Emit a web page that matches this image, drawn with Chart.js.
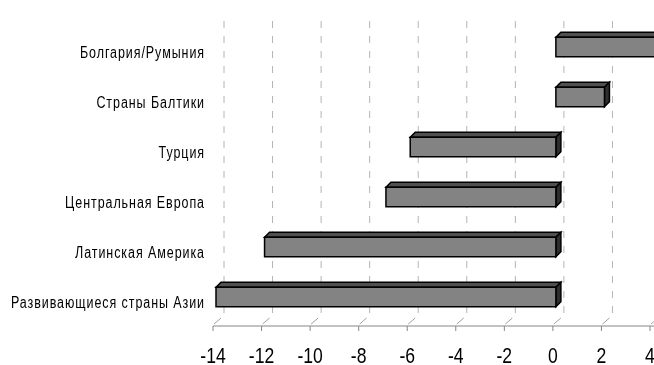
<!DOCTYPE html>
<html>
<head>
<meta charset="UTF-8">
<title>Регионы</title>
<script src="https://cdn.jsdelivr.net/npm/chart.js@4.4.1/dist/chart.umd.min.js"></script>
<style>
  html, body { margin: 0; padding: 0; background: #fff; overflow: hidden; }
  #wrap { width: 700px; height: 365px; }
</style>
</head>
<body>
<div id="wrap"><canvas id="grafico" width="700" height="365"></canvas></div>
<script>
// categorias de cima para baixo
var regioes = [
    "Болгария/Румыния",
    "Страны Балтики",
    "Турция",
    "Центральная Европа",
    "Латинская Америка",
    "Развивающиеся страны Азии"
];
var valores = [4.2, 2, -6, -7, -12, -14];
var eixoMin = -14;
var eixoMax = 4;
var passo = 2;

var fonte = "'Liberation Sans', Arial, sans-serif";

// profundidade do "piso" e das barras (efeito 3D)
var fundo = { dx: 11, dy: -11 };
var barra = { ox: 3, oy: -4, dx: 5, dy: -5 };

// escreve texto comprimido na horizontal
function textoEstreito(ctx, txt, x, y, align, aperto, espaco) {
    ctx.save();
    ctx.translate(x, y);
    ctx.scale(aperto, 1);
    ctx.letterSpacing = espaco + "px";
    ctx.textAlign = align;
    ctx.textBaseline = "alphabetic";
    ctx.fillText(txt, 0, 0);
    ctx.restore();
}

var rotulosPlugin = {
    id: "rotulos",
    afterDraw: function(chart) {
        var ctx = chart.ctx;
        var x = chart.scales.x;
        var y = chart.scales.y;
        ctx.save();
        ctx.fillStyle = "#000";
        ctx.font = "22px " + fonte;
        x.ticks.forEach(function(t, i) {
            textoEstreito(ctx, String(t.value), x.getPixelForTick(i), 363, "center", 0.8, 0);
        });
        ctx.font = "16px " + fonte;
        y.ticks.forEach(function(t, i) {
            textoEstreito(ctx, regioes[t.value], y.right - 8, y.getPixelForTick(i) + 7, "right", 0.78, 1.2);
        });
        ctx.restore();
    }
};

// grade tracejada na parede do fundo + eixo do piso + barras 3D
var gradePlugin = {
    id: "grade3d",
    beforeDatasetsDraw: function(chart) {
        var ctx = chart.ctx;
        var area = chart.chartArea;
        var x = chart.scales.x;
        ctx.save();
        x.ticks.forEach(function(t) {
            var px = x.getPixelForValue(t.value);
            ctx.strokeStyle = "#b4b4b4";
            ctx.lineWidth = 1;
            ctx.setLineDash([7, 8]);
            ctx.beginPath();
            ctx.moveTo(px + fundo.dx, area.bottom + fundo.dy - 2);
            ctx.lineTo(px + fundo.dx, area.top + fundo.dy);
            ctx.stroke();
            ctx.setLineDash([]);
            ctx.strokeStyle = "#a0a0a0";
            ctx.beginPath();
            ctx.moveTo(px + 1, area.bottom - 2);
            ctx.lineTo(px + 8, area.bottom - 8);
            ctx.stroke();
            ctx.strokeStyle = "#868686";
            ctx.beginPath();
            ctx.moveTo(px, area.bottom);
            ctx.lineTo(px, area.bottom + 5);
            ctx.stroke();
        });
        ctx.strokeStyle = "#868686";
        ctx.beginPath();
        ctx.moveTo(x.getPixelForValue(eixoMin), area.bottom);
        ctx.lineTo(chart.width, area.bottom);
        ctx.stroke();
        ctx.restore();
    },
    afterDatasetsDraw: function(chart) {
        var ctx = chart.ctx;
        var meta = chart.getDatasetMeta(0);
        ctx.save();
        ctx.lineWidth = 1.5;
        ctx.strokeStyle = "#000";
        meta.data.forEach(function(el) {
            var p = el.getProps(["x", "y", "base", "height"], true);
            var l = Math.min(p.x, p.base) + barra.ox;
            var r = Math.max(p.x, p.base) + barra.ox;
            var t = p.y - p.height / 2 + barra.oy;
            var b = p.y + p.height / 2 + barra.oy;
            // face de cima
            ctx.fillStyle = "#505050";
            ctx.beginPath();
            ctx.moveTo(l, t);
            ctx.lineTo(l + barra.dx, t + barra.dy);
            ctx.lineTo(r + barra.dx, t + barra.dy);
            ctx.lineTo(r, t);
            ctx.closePath();
            ctx.fill();
            ctx.stroke();
            // face lateral
            ctx.fillStyle = "#2e2e2e";
            ctx.beginPath();
            ctx.moveTo(r, t);
            ctx.lineTo(r + barra.dx, t + barra.dy);
            ctx.lineTo(r + barra.dx, b + barra.dy);
            ctx.lineTo(r, b);
            ctx.closePath();
            ctx.fill();
            ctx.stroke();
            // frente
            ctx.fillStyle = "#838383";
            ctx.fillRect(l, t, r - l, b - t);
            ctx.strokeRect(l, t, r - l, b - t);
        });
        ctx.restore();
    }
};

var ctx = document.getElementById("grafico").getContext("2d");
var grafico = new Chart(ctx, {
    type: "bar",
    data: {
        labels: regioes,
        datasets: [{
            data: valores,
            backgroundColor: "rgba(0,0,0,0)",
            borderWidth: 0,
            barPercentage: 0.39,
            categoryPercentage: 1
        }]
    },
    options: {
        indexAxis: "y",
        responsive: false,
        animation: false,
        layout: { padding: { top: 26, right: 50, left: 0, bottom: 0 } },
        plugins: {
            legend: { display: false },
            tooltip: { enabled: false }
        },
        scales: {
            x: {
                min: eixoMin,
                max: eixoMax,
                grid: { display: false, drawTicks: false },
                border: { display: false },
                ticks: { display: false, stepSize: passo },
                afterFit: function(s) { s.height = 39; }
            },
            y: {
                grid: { display: false, drawTicks: false },
                border: { display: false },
                ticks: { display: false },
                afterFit: function(s) { s.width = 213; }
            }
        }
    },
    plugins: [gradePlugin, rotulosPlugin]
});
</script>
</body>
</html>
